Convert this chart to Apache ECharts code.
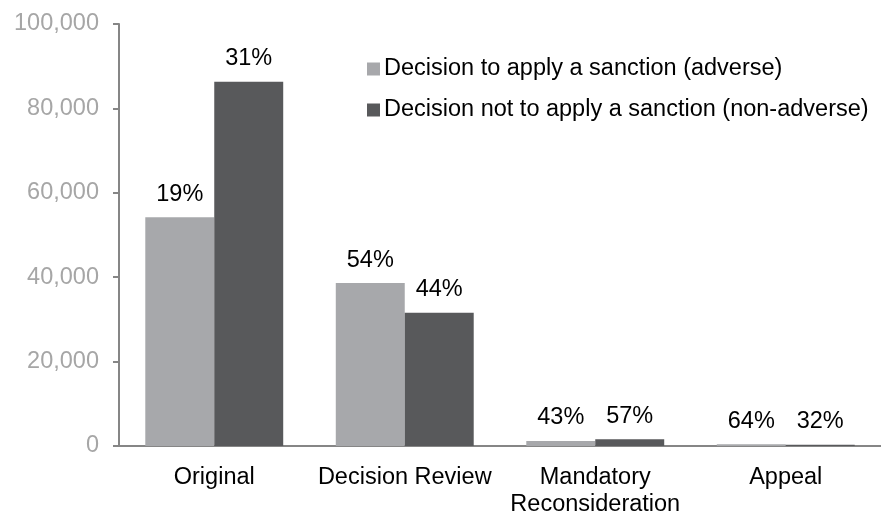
<!DOCTYPE html>
<html>
<head>
<meta charset="utf-8">
<script src="https://cdn.jsdelivr.net/npm/echarts@6/dist/echarts.min.js"></script>
<style>
  html, body { margin: 0; padding: 0; background: #fff; }
  #chart { width: 881px; height: 518px; }
</style>
</head>
<body>
<div id="chart"></div>
<script>
const categories = ["Original", "Decision Review", "Mandatory\nReconsideration", "Appeal"];
const adverseValues = [54200, 38600, 1200, 400];
const nonAdverseValues = [86300, 31600, 1600, 300];
const adverseLabels = ["19%", "54%", "43%", "64%"];
const nonAdverseLabels = ["31%", "44%", "57%", "32%"];
const yTicks = [0, 20000, 40000, 60000, 80000, 100000];

const FONT = "Liberation Sans, Arial, sans-serif";
const FS = 23.5;
const LIGHT = "#a7a8ab";
const DARK = "#58595b";

const chart = echarts.init(document.getElementById("chart"));

const labelFor = (texts) => ({
  show: true,
  position: "top",
  distance: 11,
  color: "#000",
  fontFamily: FONT,
  fontSize: FS,
  formatter: (p) => texts[p.dataIndex],
});

chart.setOption({
  animation: false,
  textStyle: { fontFamily: FONT },
  grid: { left: 119, top: 24, width: 772, height: 430, containLabel: false },
  legend: {
    orient: "vertical",
    left: 362,
    top: 52,
    itemWidth: 13,
    itemHeight: 13,
    itemGap: 17,
    icon: "rect",
    textStyle: { fontFamily: FONT, fontSize: FS, color: "#000", padding: [0, 0, 0, -1] },
    data: ["Decision to apply a sanction (adverse)", "Decision not to apply a sanction (non-adverse)"],
  },
  xAxis: {
    type: "category",
    data: categories,
    axisLine: { lineStyle: { color: "#868686", width: 2 } },
    axisTick: { show: false },
    axisLabel: { color: "#000", fontSize: FS, fontFamily: FONT, margin: 18, lineHeight: 27, interval: 0 },
  },
  yAxis: {
    type: "value",
    min: yTicks[0],
    max: yTicks[yTicks.length - 1],
    interval: 20000,
    splitLine: { show: false },
    axisLine: { show: true, lineStyle: { color: "#868686", width: 2 } },
    axisTick: { show: true, length: 6, lineStyle: { color: "#868686", width: 2 } },
    axisLabel: {
      color: "#a6a6a6",
      fontSize: FS,
      fontFamily: FONT,
      margin: 20,
      formatter: (v) => v.toLocaleString("en-US"),
    },
  },
  series: [
    {
      name: "Decision to apply a sanction (adverse)",
      type: "bar",
      data: adverseValues,
      itemStyle: { color: LIGHT },
      barGap: "0%",
      barCategoryGap: "27.6%",
      label: labelFor(adverseLabels),
    },
    {
      name: "Decision not to apply a sanction (non-adverse)",
      type: "bar",
      data: nonAdverseValues,
      itemStyle: { color: DARK },
      barGap: "0%",
      barCategoryGap: "27.6%",
      label: labelFor(nonAdverseLabels),
    },
  ],
});
</script>
</body>
</html>
